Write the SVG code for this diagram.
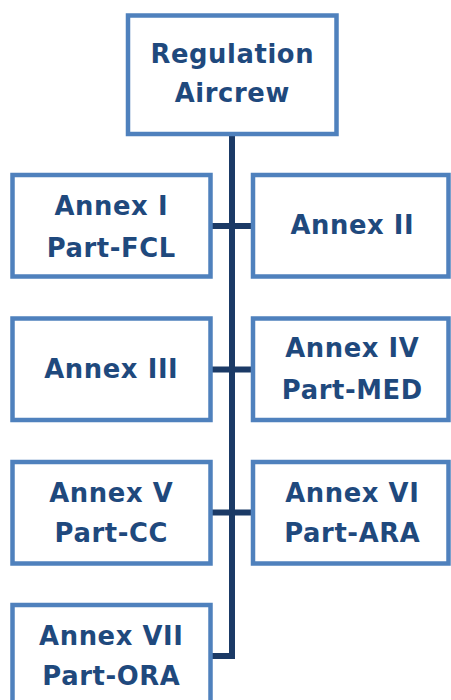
<svg xmlns="http://www.w3.org/2000/svg" width="451" height="700" viewBox="0 0 451 700">
<style>
.box{fill:#ffffff;stroke:#4F81BD;stroke-width:4.5}
.t{font-family:"DejaVu Sans",Verdana,sans-serif;font-weight:bold;font-size:25.8px;letter-spacing:0.6px;fill:#1F497D;text-anchor:middle}
.c{fill:none;stroke:#1B3A66;stroke-width:6}
</style>
<rect width="451" height="700" fill="#ffffff"/>
<g id="connectors">
<line class="c" x1="232" y1="135" x2="232" y2="659"/>
<line class="c" x1="211" y1="226" x2="253" y2="226"/>
<line class="c" x1="211" y1="369.5" x2="253" y2="369.5"/>
<line class="c" x1="211" y1="512.5" x2="253" y2="512.5"/>
<line class="c" x1="211" y1="656" x2="235" y2="656"/>
</g>
<g id="regulation">
<rect class="box" x="128" y="15.5" width="208.5" height="118.5"/>
<text class="t" x="232.3" y="62.5">Regulation</text>
<text class="t" x="232.3" y="101.5">Aircrew</text>
</g>
<g id="annex1">
<rect class="box" x="12.5" y="175" width="198" height="101.5"/>
<text class="t" x="111.3" y="215">Annex I</text>
<text class="t" x="111.3" y="256.5">Part-FCL</text>
</g>
<g id="annex2">
<rect class="box" x="253" y="175" width="195.5" height="101.5"/>
<text class="t" x="352.3" y="234">Annex II</text>
</g>
<g id="annex3">
<rect class="box" x="12.5" y="318.5" width="198" height="101.5"/>
<text class="t" x="111.3" y="378">Annex III</text>
</g>
<g id="annex4">
<rect class="box" x="253" y="318.5" width="195.5" height="101.5"/>
<text class="t" x="352.3" y="357">Annex IV</text>
<text class="t" x="352.3" y="399">Part-MED</text>
</g>
<g id="annex5">
<rect class="box" x="12.5" y="462" width="198" height="101.5"/>
<text class="t" x="111.3" y="501.5">Annex V</text>
<text class="t" x="111.3" y="542">Part-CC</text>
</g>
<g id="annex6">
<rect class="box" x="253" y="462" width="195.5" height="101.5"/>
<text class="t" x="352.3" y="501.5">Annex VI</text>
<text class="t" x="352.3" y="542">Part-ARA</text>
</g>
<g id="annex7">
<rect class="box" x="12.5" y="605" width="198" height="101.5"/>
<text class="t" x="111.3" y="644.5">Annex VII</text>
<text class="t" x="111.3" y="685">Part-ORA</text>
</g>
</svg>
